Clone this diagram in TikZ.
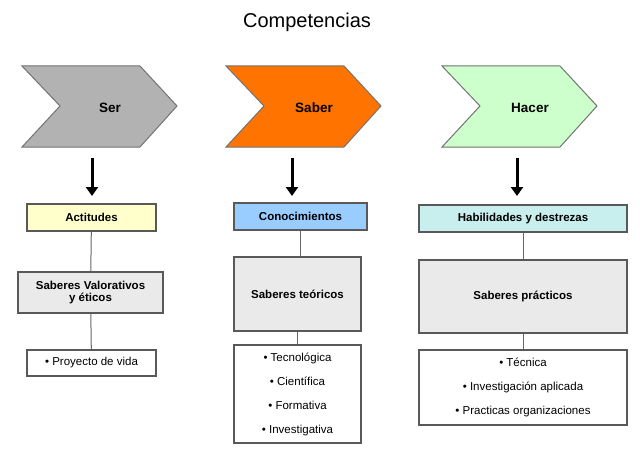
\documentclass[tikz,border=0pt]{standalone}
\usepackage{fontspec}
\setmainfont{Liberation Sans}
\usetikzlibrary{arrows.meta}
\begin{document}
\begin{tikzpicture}[x=1pt,y=-1pt,
 bx/.style={draw=black!65,line width=1.3pt,font=\bfseries\fontsize{11.5}{13}\selectfont,align=center,inner sep=0pt},
 lst/.style={draw=black!65,line width=1.3pt,font=\fontsize{11.5}{24}\selectfont,align=center,inner sep=0pt},
 chev/.style={draw=black!55,line width=1pt},
 arr/.style={line width=3pt,-{Triangle[length=9pt,width=12pt]}},
 ln/.style={draw=black!60,line width=1pt}]
\useasboundingbox (0,0) rectangle (640,452);
\node (title) at (307,22) {\fontsize{20}{22}\selectfont Competencias};
\foreach \x/\c/\t/\n in {22/gray!60/Ser/a,226/orange!90!red/Saber/b,442/green!20/Hacer/c}{
 \filldraw[chev,fill=\c] (\x,66)--(\x+118,66)--(\x+155,106)--(\x+118,147)--(\x,147)--(\x+38,106)--cycle;
 \node[font=\bfseries\fontsize{13.5}{15}\selectfont] (ch\n) at (\x+88,108) {\t};
}
\coordinate (sa) at (92,158); \coordinate (ea) at (92,196);
\coordinate (sb) at (292,158); \coordinate (eb) at (292,196);
\coordinate (sc) at (517,158); \coordinate (ec) at (517,196);
\draw[arr] (sa)--(ea); \draw[arr] (sb)--(eb); \draw[arr] (sc)--(ec);
\definecolor{yl}{HTML}{FFFFCC}\definecolor{bl}{HTML}{99CCFF}\definecolor{tl}{HTML}{C8EEEE}\definecolor{gr}{HTML}{EAEAEA}
\node[bx,fill=yl,minimum width=129,minimum height=27] (a1) at (91.5,217.5) {Actitudes};
\node[bx,fill=gr,minimum width=145,minimum height=41] (a2) at (90.5,292.5) {Saberes Valorativos\\[-1pt]y éticos};
\node[lst,fill=white,minimum width=129,minimum height=26] (a3) at (91.5,363) {• Proyecto de vida};
\node[bx,fill=bl,minimum width=133,minimum height=27] (b1) at (300.5,216.5) {Conocimientos};
\node[bx,fill=gr,minimum width=127,minimum height=74] (b2) at (297.5,294) {Saberes teóricos};
\node[lst,fill=white,minimum width=127,minimum height=98] (b3) at (297.5,394) {• Tecnológica\\• Científica\\• Formativa\\• Investigativa};
\node[bx,fill=tl,minimum width=208,minimum height=27] (c1) at (523,218.5) {Habilidades y destrezas};
\node[bx,fill=gr,minimum width=208,minimum height=73] (c2) at (523,296.5) {Saberes prácticos};
\node[lst,fill=white,minimum width=208,minimum height=75] (c3) at (523,387.5) {• Técnica\\• Investigación aplicada\\• Practicas organizaciones};
\draw[ln] (a1)--(a2); \draw[ln] (a2)--(a3);
\draw[ln] (b1.south)--(b1.south|-b2.north); \draw[ln] (b2)--(b3);
\draw[ln] (c1.south)--(c1.south|-c2.north); \draw[ln] (c2)--(c3);
\end{tikzpicture}
\end{document}
